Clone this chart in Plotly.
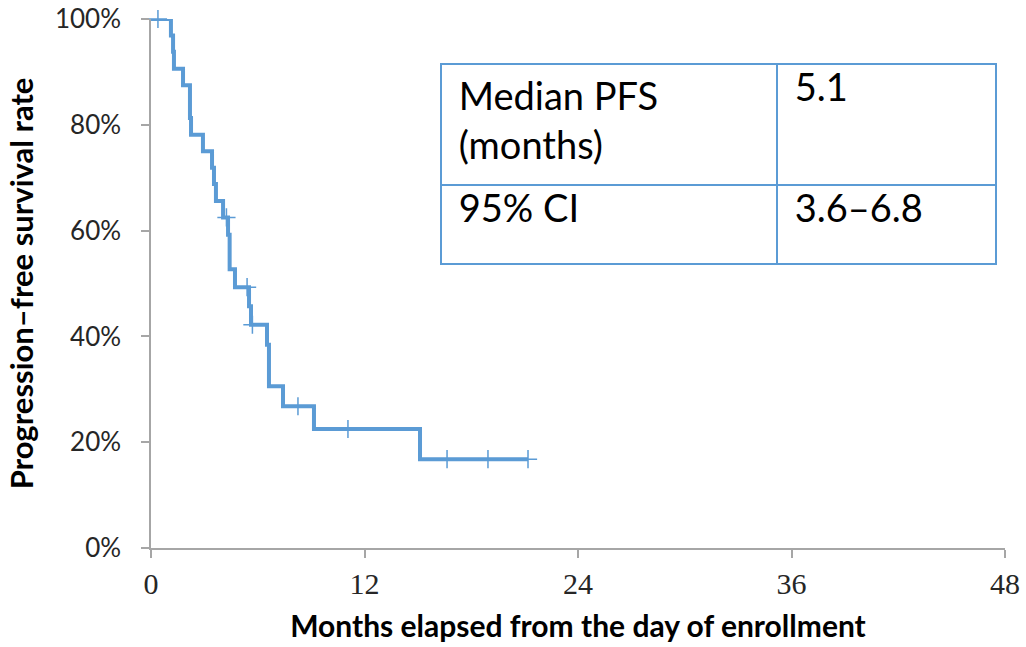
import plotly.graph_objects as go

# Kaplan-Meier step curve (months, PFS %)
step_months = [0, 1.12, 1.24, 1.29, 1.80, 2.19, 2.25, 2.92, 3.43, 3.54, 3.65, 4.05,
               4.33, 4.42, 4.72, 5.51, 5.62, 6.52, 6.63, 7.42, 9.16, 15.12, 21.19]
step_pfs = [100, 96.9, 93.8, 90.6, 87.5, 81.3, 78.1, 75.0, 71.9, 68.8, 65.6, 62.5,
            59.2, 52.7, 49.3, 45.7, 42.2, 38.4, 30.6, 26.8, 22.5, 16.8, 16.8]

# censored observations
censor_months = [0.39, 4.24, 5.40, 5.70, 8.26, 11.07, 16.64, 18.94, 21.19]
censor_pfs = [100, 62.5, 49.3, 42.2, 26.8, 22.5, 16.8, 16.8, 16.8]

x_ticks = [0, 12, 24, 36, 48]
y_ticks = [0, 20, 40, 60, 80, 100]
y_tick_labels = ["0%", "20%", "40%", "60%", "80%", "100%"]

table_col1 = ["Median PFS<br>(months)", "95% CI"]
table_col2 = ["5.1", "3.6–6.8"]

BLUE = "#5B9BD5"
AXIS = "#A6A6A6"
SANS = "Lato, 'Open Sans', sans-serif"
PAD = "\u00a0"

fig = go.Figure()
fig.add_trace(go.Scatter(
    x=step_months, y=step_pfs, mode="lines", line_shape="hv",
    line=dict(color=BLUE, width=4), hoverinfo="skip", showlegend=False))
fig.add_trace(go.Scatter(
    x=censor_months, y=censor_pfs, mode="markers", cliponaxis=False,
    marker=dict(symbol="cross-thin", size=13, color=BLUE,
                line=dict(color=BLUE, width=1.5)),
    showlegend=False))

fig.add_trace(go.Table(
    domain=dict(x=[0.3396, 0.9895], y=[0.30, 0.9149]),
    columnwidth=[336, 219],
    header=dict(values=[PAD + table_col1[0].replace("<br>", "<br>" + PAD), PAD + table_col2[0]],
                height=121, align="left", fill_color="white",
                line=dict(color=BLUE, width=2),
                font=dict(family=SANS, size=38, color="black")),
    cells=dict(values=[[PAD + table_col1[1]], [PAD + table_col2[1]]], height=79,
               align="left", fill_color="white",
               line=dict(color=BLUE, width=2),
               font=dict(family=SANS, size=38, color="black")),
))

fig.update_layout(
    width=1026, height=647,
    margin=dict(l=151, r=21, t=19, b=99, autoexpand=False),
    paper_bgcolor="white", plot_bgcolor="white",
    xaxis=dict(range=[0, 48], tickvals=x_ticks, showgrid=False, zeroline=False,
               automargin=False, ticklabeloverflow="allow",
               showline=True, linecolor=AXIS, linewidth=1.5,
               ticks="outside", ticklen=8, tickcolor=AXIS, tickwidth=1.5,
               tickfont=dict(family="Liberation Serif, serif", size=30, color="#262626"),
               title=dict(text="<b>Months elapsed from the day of enrollment</b>",
                          font=dict(family=SANS, size=30, color="black"), standoff=17)),
    yaxis=dict(range=[0, 100], tickvals=y_ticks, ticktext=y_tick_labels, showgrid=False,
               automargin=False, ticklabeloverflow="allow",
               zeroline=False, showline=True, linecolor=AXIS, linewidth=1.5,
               ticks="outside", ticklen=8, tickcolor=AXIS, tickwidth=1.5,
               ticklabelstandoff=15,
               tickfont=dict(family=SANS, size=26, color="#262626"),
               title=dict(text="<b>Progression–free survival rate</b>",
                          font=dict(family=SANS, size=31, color="black"), standoff=12)),
)

# remove the default 8px page margin so the figure fills the window exactly
fig.write_html("out.html", config={"displayModeBar": False},
               post_script="document.body.style.margin='0px';")
